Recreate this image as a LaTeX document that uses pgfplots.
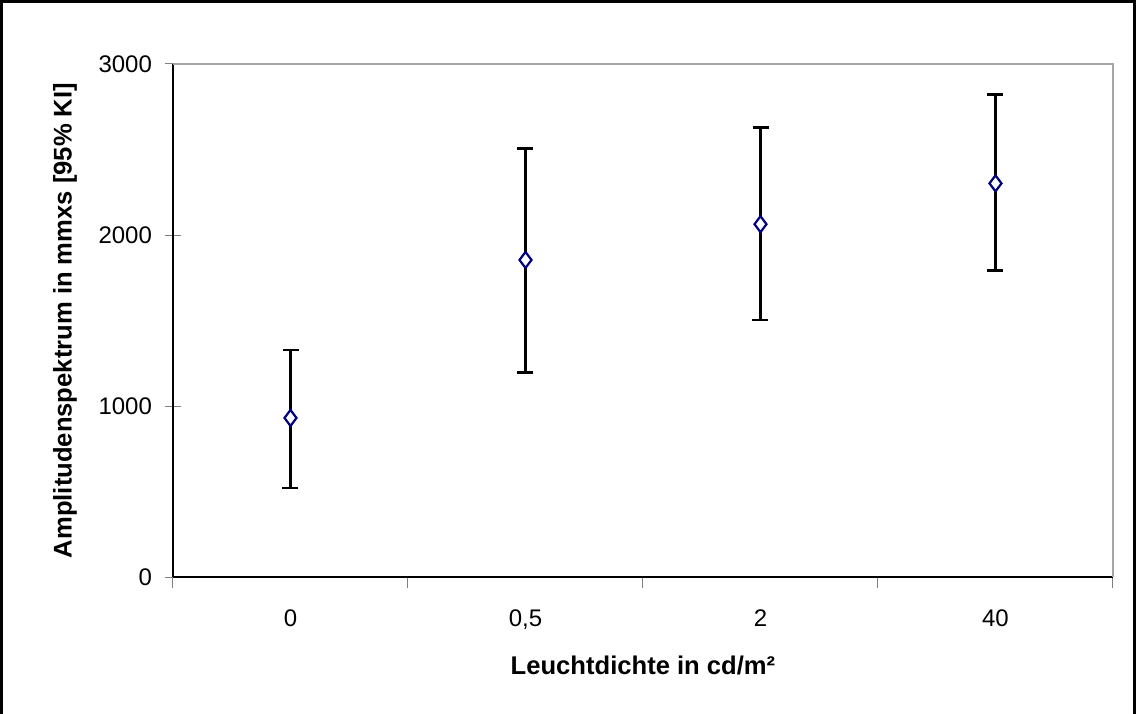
\documentclass[border=0pt]{standalone}
\usepackage{pgfplots}
\pgfplotsset{compat=1.18}
\usepackage{pgfplotstable}
\usepackage{fontspec}
\setmainfont{Liberation Sans}
\definecolor{mk}{RGB}{0,0,128}
\pgfplotstableread{
x y ep em
0 930 397 410
1 1854 653 657
2 2063 567 560
3 2302 518 511
}\datatab
\begin{document}
\begin{tikzpicture}[x=1pt,y=1pt]
\useasboundingbox (0,0) rectangle (568,356.5);
\draw[line width=1.6pt] (0.8,-5) -- (0.8,355.7) -- (567.2,355.7) -- (567.2,-5);
\begin{axis}[
  at={(86.5pt,68pt)}, anchor=south west,
  scale only axis, width=470pt, height=256.5pt,
  xmin=-0.5, xmax=3.5, ymin=0, ymax=3000,
  axis lines=left, axis line style={-, line width=0.6pt},
  xtick={0,1,2,3}, xticklabels={0,{0,5},2,40},
  minor xtick={-0.5,0.5,1.5,2.5,3.5},
  major x tick style={draw=none},
  minor x tick style={line width=0.5pt},
  xtick align=outside,
  minor tick length=5.5pt,
  ytick={0,1000,2000,3000},
  ytick align=center, major tick length=8pt,
  y tick style={line width=0.5pt},
  scaled y ticks=false,
  yticklabel style={/pgf/number format/1000 sep={}, xshift=-3pt},
  /pgf/number format/assume math mode=true,
  tick label style={font=\fontsize{12}{14}\selectfont},
  xticklabel style={yshift=-5pt},
  xlabel={\textbf{Leuchtdichte in cd/m²}},
  ylabel={\textbf{Amplitudenspektrum in mmxs [95\% KI]}},
  label style={font=\fontsize{12.8}{15}\selectfont},
  xlabel style={at={(axis description cs:0.5,-0.172)}, anchor=center},
  ylabel style={at={(axis description cs:-0.115,0.5)}, anchor=center},
  clip=false,
]
\draw[gray!70, line width=0.6pt] (rel axis cs:0,1) -- (rel axis cs:1,1) -- (rel axis cs:1,0);
\addplot[only marks, mark=diamond*, mark size=4pt,
  mark options={draw=mk, fill=white, line width=1.1pt},
  error bars/.cd, y dir=both, y explicit,
  error bar style={black, line width=1.3pt},
  error mark options={black, line width=1.3pt, mark size=4pt, rotate=90}]
  table[x=x, y=y, y error plus=ep, y error minus=em] {\datatab};
\end{axis}
\end{tikzpicture}
\end{document}
